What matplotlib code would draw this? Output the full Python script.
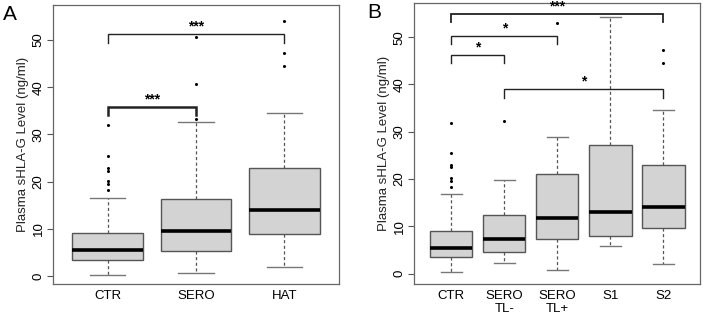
import matplotlib
matplotlib.use("Agg")
import matplotlib.pyplot as plt

plt.rcParams['font.family'] = ['Liberation Sans', 'DejaVu Sans']

# panel A groups
groups_a = ['CTR', 'SERO', 'HAT']
a_whislo = [0.2, 0.6, 1.8]
a_q1 = [3.4, 5.2, 8.9]
a_med = [5.4, 9.5, 13.9]
a_q3 = [9.0, 16.4, 22.8]
a_whishi = [16.6, 32.7, 34.5]
a_fliers = [
    [32.0, 25.5, 22.8, 22.3, 20.1, 19.4, 18.3],
    [50.6, 40.6, 33.2],
    [54.1, 47.3, 44.5],
]

# panel B groups
groups_b = ['CTR', 'SERO\nTL-', 'SERO\nTL+', 'S1', 'S2']
b_whislo = [0.4, 2.2, 0.8, 5.9, 2.0]
b_q1 = [3.6, 4.6, 7.3, 8.0, 9.6]
b_med = [5.5, 7.4, 11.7, 13.0, 14.0]
b_q3 = [9.1, 12.3, 21.1, 27.1, 22.9]
b_whishi = [16.8, 19.7, 28.9, 54.2, 34.6]
b_fliers = [
    [31.9, 25.6, 23.0, 22.5, 20.2, 19.5, 18.4],
    [32.3],
    [52.9],
    [],
    [47.3, 44.6],
]

# significance brackets: (left group, right group, bar height, tick bottom, stars)
a_sig = [(1, 3, 51.3, 49.3, '***'), (1, 2, 35.9, 34.1, '***')]
b_sig = [(1, 5, 55.0, 53.3, '***'), (1, 3, 50.2, 48.5, '*'),
         (1, 2, 46.2, 44.5, '*'), (2, 5, 39.0, 37.2, '*')]
a_sig_lw = [1.0, 1.8]
b_sig_lw = [1.3, 1.0, 1.0, 1.0]

EDGE = '#555555'
FILL = '#d3d3d3'


def make_stats(labels, lo, q1, med, q3, hi, fl):
    return [dict(label=l, whislo=a, q1=b, med=c, q3=d, whishi=e, fliers=f)
            for l, a, b, c, d, e, f in zip(labels, lo, q1, med, q3, hi, fl)]


def draw_panel(ax, stats, sig, sig_lw, ylim, letter, letter_x):
    n = len(stats)
    ax.bxp(stats, positions=range(1, n + 1), widths=0.8, capwidths=0.4,
           patch_artist=True, showfliers=True,
           boxprops=dict(facecolor=FILL, edgecolor=EDGE, linewidth=1.0),
           medianprops=dict(color='black', linewidth=2.6, solid_capstyle='butt'),
           whiskerprops=dict(color=EDGE, linewidth=0.9, linestyle=(0, (2.5, 2))),
           capprops=dict(color='#777777', linewidth=1.0),
           flierprops=dict(marker='o', markersize=1.2, markerfacecolor='black',
                           markeredgecolor='black'))
    ax.set_xlim(0.5 - 0.04 * n, n + 0.5 + 0.04 * n)
    ax.set_ylim(*ylim)
    ax.set_yticks([0, 10, 20, 30, 40, 50])
    ax.tick_params(axis='y', labelrotation=90, labelsize=9.5, length=4,
                   color=EDGE, pad=2)
    for t in ax.get_yticklabels():
        t.set_va('center')
    ax.tick_params(axis='x', length=0, labelsize=9.5, pad=4)
    for t in ax.get_xticklabels():
        t.set_linespacing(1.15)
    ax.set_ylabel('Plasma sHLA-G Level (ng/ml)', fontsize=9.5, color='#222222',
                  labelpad=3)
    for s in ax.spines.values():
        s.set_color('#666666')
        s.set_linewidth(0.9)
    for (g1, g2, top, bot, stars), lw in zip(sig, sig_lw):
        ax.plot([g1, g1, g2, g2], [bot, top, top, bot], color='#222222',
                linewidth=lw, solid_joinstyle='miter')
        ax.text((g1 + g2) / 2, top + 0.1, stars, ha='center', va='bottom',
                fontsize=10, fontweight='bold')
    ax.text(letter_x, 1.0, letter, transform=ax.transAxes, fontsize=15,
            ha='left', va='top')


fig = plt.figure(figsize=(7.04, 3.17), dpi=100)
ax_a = fig.add_axes([0.0753, 0.1041, 0.4062, 0.8800])
ax_b = fig.add_axes([0.5881, 0.1041, 0.4069, 0.8874])

draw_panel(ax_a, make_stats(groups_a, a_whislo, a_q1, a_med, a_q3, a_whishi, a_fliers),
           a_sig, a_sig_lw, (-1.7, 57.4), 'A', -0.175)
draw_panel(ax_b, make_stats(groups_b, b_whislo, b_q1, b_med, b_q3, b_whishi, b_fliers),
           b_sig, b_sig_lw, (-2.2, 57.3), 'B', -0.165)

fig.savefig('out.png', dpi=100)
